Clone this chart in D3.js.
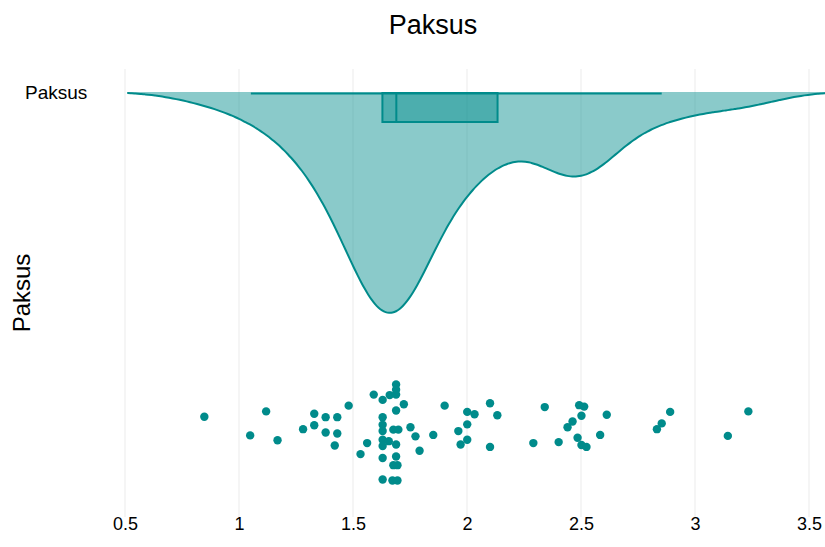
<!DOCTYPE html>
<html>
<head>
<meta charset="utf-8">
<script src="https://cdn.jsdelivr.net/npm/d3@7"></script>
<style>
  body { margin: 0; background: #fff; }
  text { font-family: "Liberation Sans", Arial, sans-serif; }
</style>
</head>
<body>
<svg id="chart"></svg>
<script>
// values
var values = [0.848, 1.119, 1.049, 1.169, 1.330, 1.380, 1.431, 1.481, 1.281, 1.330,
    1.380, 1.431, 1.420, 1.591, 1.630, 1.661, 1.689, 1.689, 1.689, 1.723,
    1.689, 1.630, 1.630, 1.630, 1.630, 1.657, 1.677, 1.699, 1.689, 1.752,
    1.774, 1.792, 1.562, 1.533, 1.630, 1.689, 1.677, 1.695, 1.630, 1.673,
    1.695, 1.630, 1.852, 1.902, 1.962, 1.972, 2.001, 2.033, 2.001, 2.001,
    2.101, 2.133, 2.101, 2.291, 2.341, 2.402, 2.441, 2.463, 2.485, 2.492,
    2.514, 2.502, 2.502, 2.524, 2.584, 2.613, 2.891, 2.854, 2.833, 3.234,
    3.144];
// vertical jitter of each point (-1 bottom .. 1 top)
var jitter = [0.34, 0.45, -0.05, -0.15, 0.40, 0.33, 0.33, 0.57, 0.08, 0.16,
    0.01, -0.01, -0.26, 0.80, 0.69, 0.79, 1.01, 0.90, 0.80, 0.60,
    0.47, 0.33, 0.17, 0.04, -0.14, -0.17, 0.07, 0.07, -0.24, 0.12,
    -0.07, -0.37, -0.21, -0.44, -0.52, -0.49, -0.67, -0.67, -0.97, -0.99,
    -0.99, -0.27, -0.04, 0.57, 0.04, -0.24, 0.44, 0.39, 0.18, -0.14,
    0.62, 0.37, -0.29, -0.21, 0.54, -0.19, 0.12, 0.24, -0.10, 0.58,
    0.55, 0.36, -0.25, -0.29, -0.04, 0.38, 0.44, 0.20, 0.08, 0.45,
    -0.06];
// lower whisker, q1, median, q3, upper whisker
var boxStats = [1.052, 1.629, 1.690, 2.134, 2.854];
var xTicks = [0.5, 1, 1.5, 2, 2.5, 3, 3.5];
var category = "Paksus";
var title = "Paksus";

var width = 825, height = 547;
var color = "#008b8b";

var svg = d3.select("#chart")
    .attr("width", width)
    .attr("height", height);

var x = d3.scaleLinear()
    .domain([0.5, 3.5])
    .range([125, 809]);

var baseY = 92;
var yJit = d3.scaleLinear().domain([-1, 1]).range([481, 385]);

// gridlines
svg.append("g")
    .selectAll("line")
    .data(xTicks)
    .enter().append("line")
    .attr("x1", function(d) { return x(d); })
    .attr("x2", function(d) { return x(d); })
    .attr("y1", 69)
    .attr("y2", 517)
    .attr("stroke", "#ebebeb")
    .attr("stroke-width", 1);

// x axis labels
svg.append("g")
    .attr("transform", "translate(0,515)")
    .call(d3.axisBottom(x).tickValues(xTicks).tickSize(0).tickPadding(2).tickFormat(d3.format("")))
    .call(function(g) { g.select(".domain").remove(); })
    .selectAll("text")
    .attr("font-size", "18px")
    .attr("fill", "#000")
    .style("font-family", "Liberation Sans, Arial, sans-serif");

// kernel density, silverman bandwidth
var n = values.length;
var iqr = boxStats[3] - boxStats[1];
var sd = d3.deviation(values);
var bw = 1.059 * Math.min(sd, iqr / 1.349) * Math.pow(n, -0.2);
var lo = d3.min(values) - 2 * bw, hi = d3.max(values) + 2 * bw;
var grid = d3.range(0, 201).map(function(i) { return lo + (hi - lo) * i / 200; });
var dens = grid.map(function(g) {
    return [g, d3.sum(values, function(v) {
        var u = (g - v) / bw;
        return Math.exp(-0.5 * u * u);
    }) / (n * bw * Math.sqrt(2 * Math.PI))];
});
var yDens = d3.scaleLinear()
    .domain([0, d3.max(dens, function(d) { return d[1]; })])
    .range([baseY, 313]);

var area = d3.area()
    .x(function(d) { return x(d[0]); })
    .y0(baseY)
    .y1(function(d) { return yDens(d[1]); })
    .curve(d3.curveBasis);

svg.append("path")
    .datum(dens)
    .attr("fill", color)
    .attr("fill-opacity", 0.46)
    .attr("d", area);

svg.append("path")
    .datum(dens)
    .attr("fill", "none")
    .attr("stroke", color)
    .attr("stroke-width", 2)
    .attr("d", d3.line()
        .x(function(d) { return x(d[0]); })
        .y(function(d) { return yDens(d[1]); })
        .curve(d3.curveBasis));

// box
var boxTop = baseY + 1, boxBot = 122;
svg.append("line")
    .attr("x1", x(boxStats[0]))
    .attr("x2", x(boxStats[4]))
    .attr("y1", baseY + 1.5)
    .attr("y2", baseY + 1.5)
    .attr("stroke", color)
    .attr("stroke-width", 2);

svg.append("rect")
    .attr("x", x(boxStats[1]))
    .attr("y", boxTop)
    .attr("width", x(boxStats[3]) - x(boxStats[1]))
    .attr("height", boxBot - boxTop)
    .attr("fill", color)
    .attr("fill-opacity", 0.45)
    .attr("stroke", color)
    .attr("stroke-width", 2);

svg.append("line")
    .attr("x1", x(boxStats[2]))
    .attr("x2", x(boxStats[2]))
    .attr("y1", boxTop)
    .attr("y2", boxBot)
    .attr("stroke", color)
    .attr("stroke-width", 2);

// points
svg.append("g")
    .selectAll("circle")
    .data(values)
    .enter().append("circle")
    .attr("cx", function(d) { return x(d); })
    .attr("cy", function(d, i) { return yJit(jitter[i]); })
    .attr("r", 4.2)
    .attr("fill", color);

// category label
svg.append("text")
    .attr("x", 25)
    .attr("y", baseY)
    .attr("dy", "0.35em")
    .attr("text-anchor", "start")
    .attr("font-size", "19px")
    .text(category);

// y title
svg.append("text")
    .attr("transform", "translate(22,293) rotate(-90)")
    .attr("text-anchor", "middle")
    .attr("dy", "0.35em")
    .attr("font-size", "24px")
    .text(category);

// title
svg.append("text")
    .attr("x", 433)
    .attr("y", 25)
    .attr("dy", "0.35em")
    .attr("text-anchor", "middle")
    .attr("font-size", "27px")
    .text(title);
</script>
</body>
</html>
